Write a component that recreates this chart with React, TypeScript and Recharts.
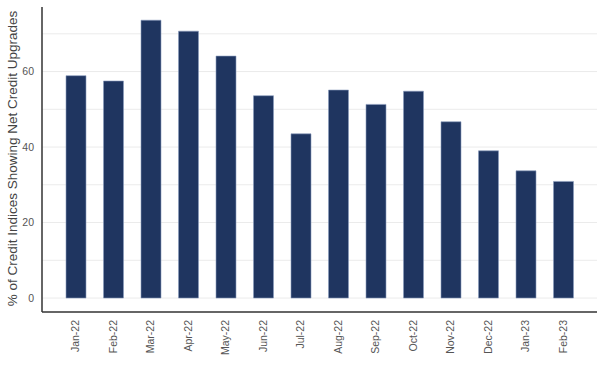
import React from "react";
import { BarChart, Bar, XAxis, YAxis, CartesianGrid } from "recharts";

const months = ["Jan-22", "Feb-22", "Mar-22", "Apr-22", "May-22", "Jun-22", "Jul-22", "Aug-22", "Sep-22", "Oct-22", "Nov-22", "Dec-22", "Jan-23", "Feb-23"];
const upgrades = [58.9, 57.5, 73.6, 70.7, 64.1, 53.6, 43.5, 55.1, 51.3, 54.8, 46.7, 39.0, 33.7, 30.9];
const yTicks = [0, 20, 40, 60];
const gridValues = [0, 10, 20, 30, 40, 50, 60, 70];

const data = months.map((m, i) => ({ month: m, value: upgrades[i] }));

const FONT = "'Liberation Sans', Arial, sans-serif";

const XTick = (props: any) => {
  const { x, y, payload } = props;
  return (
    <text
      x={x}
      y={y}
      transform={`rotate(-90, ${x}, ${y})`}
      textAnchor="end"
      dy="0.35em"
      fontSize={10.5}
      fontFamily={FONT}
      fill="#555"
    >
      {payload.value}
    </text>
  );
};

export default function App() {
  return (
    <div style={{ position: "absolute", left: 0, top: 0, background: "#fff" }}>
      <BarChart
        width={605}
        height={378}
        data={data}
        margin={{ top: 7, right: 8, left: 0, bottom: 6 }}
      >
        <CartesianGrid
          vertical={false}
          horizontalValues={gridValues}
          stroke="#ebebeb"
        />
        <XAxis
          dataKey="month"
          padding={{ left: 15, right: 15 }}
          tickLine={false}
          interval={0}
          height={60}
          tick={<XTick />}
          axisLine={{ stroke: "#333", strokeWidth: 1.5 }}
        />
        <YAxis
          width={42}
          domain={[-3.7, 77.1]}
          ticks={yTicks}
          tickLine={false}
          axisLine={{ stroke: "#333", strokeWidth: 1.5 }}
          tick={{ fontSize: 10.5, fill: "#555", fontFamily: FONT }}
          label={{
            value: "% of Credit Indices Showing Net Credit Upgrades",
            angle: -90,
            position: "insideLeft",
            dx: 7,
            dy: -1,
            style: { textAnchor: "middle", fontSize: 13.5, fill: "#444", fontFamily: FONT },
          }}
        />
        <Bar
          dataKey="value"
          barSize={20}
          fill="#1f3560"
          stroke="#8a9cbd"
          strokeWidth={0.6}
          isAnimationActive={false}
        />
      </BarChart>
    </div>
  );
}
